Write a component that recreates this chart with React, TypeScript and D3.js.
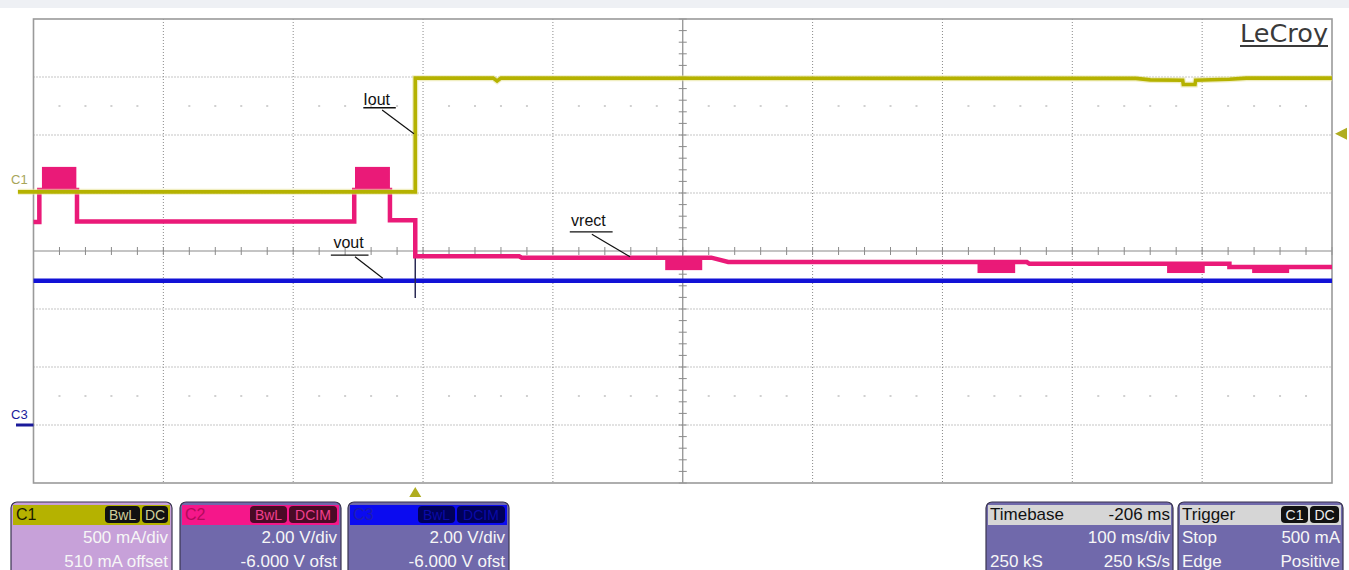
import React from "react";
import * as d3 from "d3";

// ---- data (time in ms relative to trigger, Iout in mA, voltages in V) ----
const timeDomain: [number, number] = [-294, 706];
const xDivisions = d3.range(0, 11);
const yDivisions = d3.range(-4, 5);

const ioutSeries: [number, number][] = [
  [-306, 0], [0, 0], [0, 980], [60, 980], [63, 955], [66, 980], [555, 978],
  [566, 965], [591, 962], [591.5, 925], [600.5, 925], [601, 962], [627, 970], [640, 980], [706, 980],
];

const vrectSeries: [number, number][] = [
  [-294, 7.0], [-289.5, 7.0], [-289.5, 8.1], [-260.5, 8.1], [-260.5, 7.02], [-47, 7.02],
  [-47, 8.1], [-19.5, 8.1], [-19.5, 7.06], [0, 7.06], [0, 5.82], [80, 5.82], [82, 5.77],
  [228, 5.77], [241, 5.62], [471, 5.62], [473, 5.56], [627, 5.56], [627, 5.45], [706, 5.45],
];

const vrectBursts: [number, number, number, number][] = [
  [-287.5, -261, 8.0, 8.9],
  [-46.4, -19.5, 8.0, 8.9],
  [192.5, 221, 5.34, 5.78],
  [433, 462, 5.24, 5.62],
  [579, 608, 5.24, 5.6],
  [644.5, 673, 5.24, 5.45],
];

const voutSeries: [number, number][] = [[-294, 4.97], [706, 4.97]];
const voutGlitch: [number, number][] = [[0, 5.8], [0, 4.38]];

const labelNames = ["Iout", "vout", "vrect"];
const labelAnchors: [number, number][] = [[-40, 2.52], [-63, 0.05], [120, 0.43]];
const labelLeaders: [number, number, number, number][] = [
  [-25.5, 2.43, -1, 2.02],
  [-46.4, -0.1, -25, -0.47],
  [136, 0.29, 165.4, -0.1],
];
const labelUnderlines: [number, number, number][] = [[-40, -15, 2.47], [-65, -36, -0.07], [119, 152, 0.33]];

const channelHeaders = ["C1", "C2", "C3"];
const channelBadges = [["BwL", "DC"], ["BwL", "DCIM"], ["BwL", "DCIM"]];
const channelLine1 = ["500 mA/div", "2.00 V/div", "2.00 V/div"];
const channelLine2 = ["510 mA offset", "-6.000 V ofst", "-6.000 V ofst"];

const timebaseTexts = ["Timebase", "-206 ms", "100 ms/div", "250 kS", "250 kS/s"];
const triggerTexts = ["Trigger", "Stop", "500 mA", "Edge", "Positive"];
const triggerBadges = ["C1", "DC"];

// ---- geometry / style ----
const W = 1349, H = 570;
const L = 33.5, R = 1332, T = 19, B = 483;
const OLIVE = "#b5b200";
const PINK = "#ea1a78";
const BLUE = "#1212d6";
const PANEL = "#7069ab";
const FONT = "'Liberation Sans', Arial, sans-serif";

const xT = d3.scaleLinear().domain(timeDomain).range([L, R]);
const xDiv = d3.scaleLinear().domain([0, 10]).range([L, R]);
const yDiv = d3.scaleLinear().domain([-4, 4]).range([B, T]);
const yC1 = d3.scaleLinear().domain([-4 * 500 - 510, 4 * 500 - 510]).range([B, T]);
const yC2 = d3.scaleLinear().domain([-4 * 2 + 6, 4 * 2 + 6]).range([B, T]);

const lineC1 = d3.line<[number, number]>().x((d) => xT(d[0])).y((d) => yC1(d[1]));
const lineC2 = d3.line<[number, number]>().x((d) => xT(d[0])).y((d) => yC2(d[1]));

function Badge({ x, y, w, text, fill, color }: any) {
  return (
    <g>
      <rect x={x} y={y} width={w} height={17} rx={4} fill={fill} />
      <text x={x + w / 2} y={y + 13.5} textAnchor="middle" fontSize={14} fill={color} fontFamily={FONT}>
        {text}
      </text>
    </g>
  );
}

function ChannelPanel({ i, x, w }: any) {
  const headColors = [OLIVE, "#f5178a", "#0b0bf0"];
  const headText = ["#1a1a00", "#b30a5c", "#1c1cb0"];
  const bodyColors = ["#c7a1d9", PANEL, PANEL];
  const badgeFill = ["#111", "#4a0a26", "#00005a"];
  const badgeText = ["#cfcf9a", "#f0408f", "#0a0aa8"];
  const badgeW = [[35, 26], [37, 48], [37, 48]];
  const y = 502;
  const bw = badgeW[i];
  const bx2 = x + w - 4 - bw[1];
  const bx1 = bx2 - 2 - bw[0];
  return (
    <g>
      <rect x={x} y={y} width={w} height={80} rx={6} fill={bodyColors[i]} stroke="#3a3550" strokeWidth={1.2} />
      <rect x={x + 2} y={y + 3} width={w - 4} height={20} fill={headColors[i]} />
      <text x={x + 5} y={y + 18} fontSize={16} fill={headText[i]} fontFamily={FONT}>{channelHeaders[i]}</text>
      <Badge x={bx1} y={y + 4} w={bw[0]} text={channelBadges[i][0]} fill={badgeFill[i]} color={badgeText[i]} />
      <Badge x={bx2} y={y + 4} w={bw[1]} text={channelBadges[i][1]} fill={badgeFill[i]} color={badgeText[i]} />
      <text x={x + w - 4} y={y + 41} textAnchor="end" fontSize={17} fill="#f6f6f6" fontFamily={FONT}>{channelLine1[i]}</text>
      <text x={x + w - 4} y={y + 65} textAnchor="end" fontSize={17} fill="#f6f6f6" fontFamily={FONT}>{channelLine2[i]}</text>
    </g>
  );
}

export default function App() {
  const minorX = d3.range(0, 10.001, 0.2);
  const minorY = d3.range(-4, 4.001, 0.2);
  const ghostX = d3.range(0, 10.001, 0.2).filter((v) => Math.abs(v - Math.round(v)) > 0.01);
  return (
    <svg width={W} height={H} style={{ position: "absolute", left: 0, top: 0, background: "#fff" }} fontFamily={FONT}>
      <rect x={0} y={0} width={W} height={H} fill="#fff" />
      <rect x={0} y={0} width={W} height={8} fill="#eef0f4" />

      {/* faint ghost marks */}
      {[2.5, -2.5].map((r) =>
        ghostX.map((v) => (
          <rect key={`g${r}-${v}`} x={xDiv(v) - 1} y={yDiv(r) - 1} width={2} height={2} fill="#d0d0d0" />
        ))
      )}

      {/* dotted grid */}
      {xDivisions.slice(1, 10).filter((v) => v !== 5).map((v) => (
        <line key={`vx${v}`} x1={xDiv(v)} x2={xDiv(v)} y1={T} y2={B} stroke="#8a8a8a" strokeWidth={1} strokeDasharray="1 2" />
      ))}
      {yDivisions.slice(1, 8).filter((v) => v !== 0).map((v) => (
        <line key={`hy${v}`} x1={L} x2={R} y1={yDiv(v)} y2={yDiv(v)} stroke="#8a8a8a" strokeWidth={1} strokeDasharray="1 2" />
      ))}

      {/* center axes with ticks */}
      <line x1={L} x2={R} y1={yDiv(0)} y2={yDiv(0)} stroke="#8a8a8a" strokeWidth={1.2} />
      <line x1={xDiv(5)} x2={xDiv(5)} y1={T} y2={B} stroke="#8a8a8a" strokeWidth={1.2} />
      {minorX.map((v) => (
        <line key={`tx${v}`} x1={xDiv(v)} x2={xDiv(v)} y1={yDiv(0) - 4} y2={yDiv(0) + 4} stroke="#8a8a8a" strokeWidth={1} />
      ))}
      {minorY.map((v) => (
        <line key={`ty${v}`} x1={xDiv(5) - 4} x2={xDiv(5) + 4} y1={yDiv(v)} y2={yDiv(v)} stroke="#8a8a8a" strokeWidth={1} />
      ))}

      {/* frame */}
      <rect x={L} y={T} width={R - L} height={B - T} fill="none" stroke="#9a9a9a" strokeWidth={1.6} />

      {/* vout (C3) */}
      <path d={lineC2(voutSeries) || ""} stroke={BLUE} strokeWidth={4.5} fill="none" />
      <path d={lineC2(voutGlitch) || ""} stroke="#2a2a55" strokeWidth={1.5} fill="none" />

      {/* vrect (C2) */}
      {vrectBursts.map((b, i) => (
        <rect key={`b${i}`} x={xT(b[0])} y={yC2(b[3])} width={xT(b[1]) - xT(b[0])} height={yC2(b[2]) - yC2(b[3])} fill={PINK} />
      ))}
      <path d={lineC2(vrectSeries) || ""} stroke={PINK} strokeWidth={4.5} fill="none" />

      {/* Iout (C1) */}
      <path d={lineC1(ioutSeries) || ""} stroke="#e6e39a" strokeWidth={6} fill="none" opacity={0.6} />
      <path d={lineC1(ioutSeries) || ""} stroke={OLIVE} strokeWidth={3.6} fill="none" />

      {/* annotations */}
      {labelNames.map((n, i) => (
        <g key={n}>
          <text x={xT(labelAnchors[i][0])} y={yDiv(labelAnchors[i][1])} fontSize={16} fill="#111">{n}</text>
          <line x1={xT(labelUnderlines[i][0])} x2={xT(labelUnderlines[i][1])} y1={yDiv(labelUnderlines[i][2])} y2={yDiv(labelUnderlines[i][2])} stroke="#111" strokeWidth={1.3} />
          <line x1={xT(labelLeaders[i][0])} y1={yDiv(labelLeaders[i][1])} x2={xT(labelLeaders[i][2])} y2={yDiv(labelLeaders[i][3])} stroke="#111" strokeWidth={1.2} />
        </g>
      ))}

      {/* LeCroy logo */}
      <text x={1240} y={42} fontSize={24} fill="#3a3a3a" fontFamily="'DejaVu Sans', sans-serif" textLength={88} lengthAdjust="spacingAndGlyphs">LeCroy</text>
      <line x1={1240} x2={1328} y1={46} y2={46} stroke="#3a3a3a" strokeWidth={1.8} />

      {/* channel markers */}
      <text x={11} y={184} fontSize={13} fill="#a7a55a">C1</text>
      <text x={11} y={419} fontSize={13} fill="#1a1a9a">C3</text>
      <line x1={16} x2={L} y1={yC2(0)} y2={yC2(0)} stroke="#1a1a9a" strokeWidth={3} />

      {/* trigger markers */}
      <path d={`M${xT(0)},${B + 4} l6,10 l-12,0 z`} fill="#b0ad20" />
      <path d={`M${R + 3},${yC1(500)} l12,-6 l0,12 z`} fill="#b0ad20" />

      {/* bottom panels */}
      <ChannelPanel i={0} x={11} w={161} />
      <ChannelPanel i={1} x={180} w={161} />
      <ChannelPanel i={2} x={348} w={161} />

      <g>
        <rect x={986} y={502} width={187} height={80} rx={6} fill={PANEL} stroke="#3a3550" strokeWidth={1.2} />
        <rect x={988} y={505} width={183} height={20} fill="#d6d6d6" />
        <text x={990} y={520} fontSize={17} fill="#111">{timebaseTexts[0]}</text>
        <text x={1170} y={520} fontSize={17} fill="#111" textAnchor="end">{timebaseTexts[1]}</text>
        <text x={1170} y={543} fontSize={17} fill="#f6f6f6" textAnchor="end">{timebaseTexts[2]}</text>
        <text x={990} y={567} fontSize={17} fill="#f6f6f6">{timebaseTexts[3]}</text>
        <text x={1170} y={567} fontSize={17} fill="#f6f6f6" textAnchor="end">{timebaseTexts[4]}</text>
      </g>
      <g>
        <rect x={1178} y={502} width={165} height={80} rx={6} fill={PANEL} stroke="#3a3550" strokeWidth={1.2} />
        <rect x={1180} y={505} width={161} height={20} fill="#d6d6d6" />
        <text x={1182} y={520} fontSize={17} fill="#111">{triggerTexts[0]}</text>
        <Badge x={1281} y={506} w={27} text={triggerBadges[0]} fill="#111" color="#eee" />
        <Badge x={1310} y={506} w={29} text={triggerBadges[1]} fill="#111" color="#eee" />
        <text x={1182} y={543} fontSize={17} fill="#f6f6f6">{triggerTexts[1]}</text>
        <text x={1340} y={543} fontSize={17} fill="#f6f6f6" textAnchor="end">{triggerTexts[2]}</text>
        <text x={1182} y={567} fontSize={17} fill="#f6f6f6">{triggerTexts[3]}</text>
        <text x={1340} y={567} fontSize={17} fill="#f6f6f6" textAnchor="end">{triggerTexts[4]}</text>
      </g>
    </svg>
  );
}
